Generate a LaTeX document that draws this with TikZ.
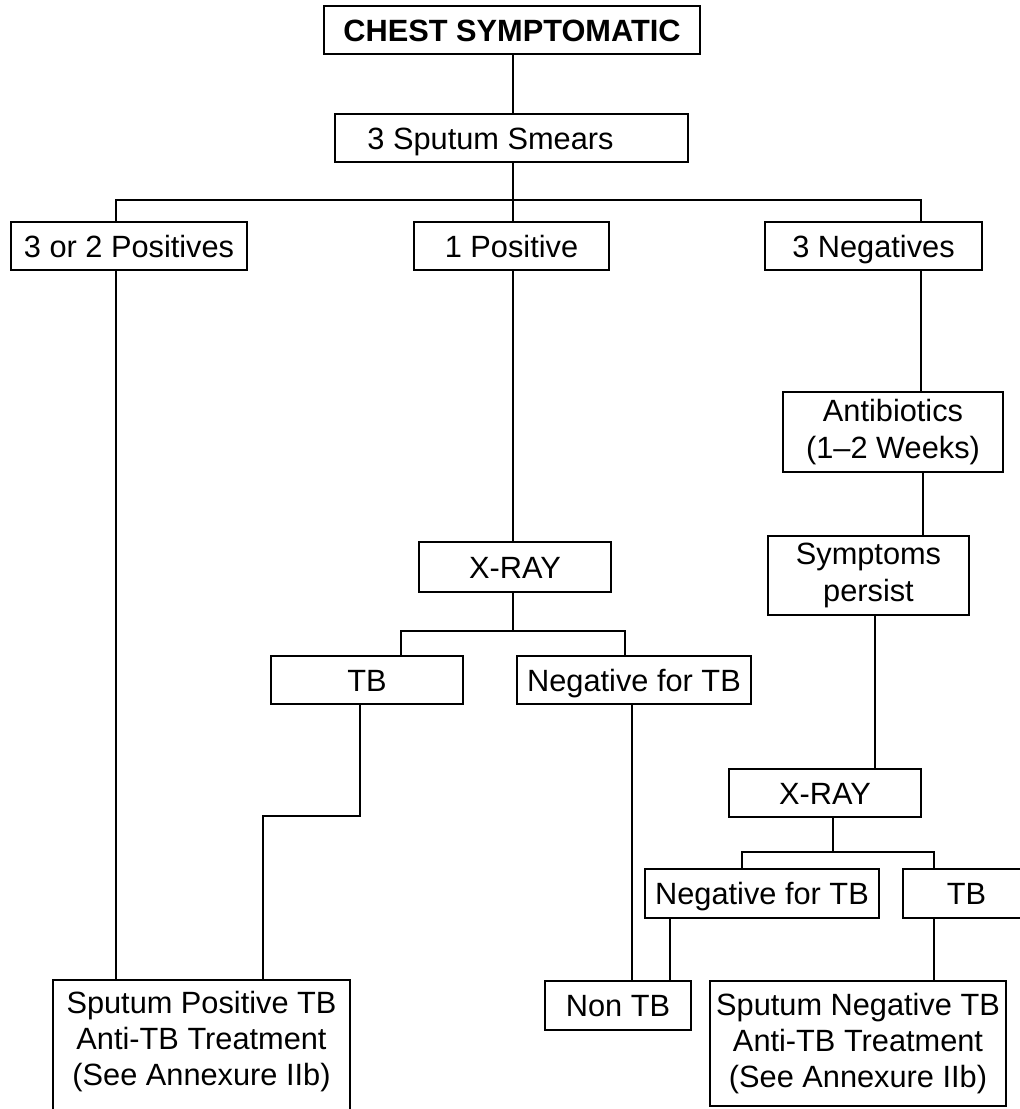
\documentclass[tikz,border=0pt]{standalone}
\usepackage{fontspec}
\setmainfont{Liberation Sans}
\usepackage{tikz}
\usetikzlibrary{positioning,calc}

\begin{document}
\begin{tikzpicture}[
    x=0.02cm, y=-0.02cm,
    font=\fontsize{17.5}{20.5}\selectfont,
    box/.style={draw=black, line width=1.1pt, inner sep=0pt, align=center, minimum height=0.96cm},
    onebox/.style={box, text height=0.44cm, text depth=0pt},
    link/.style={draw=black, line width=0.9pt}
]
    \useasboundingbox (0,0) rectangle (1020,1109);

    % Top of the chart
    \node[onebox, font=\fontsize{17.5}{20.5}\selectfont\bfseries, minimum width=7.52cm] (chest) at (512,30) {CHEST SYMPTOMATIC};
    \node[onebox, minimum width=7.06cm] (smears) at (511.5,138) {3 Sputum Smears\hspace*{0.84cm}};

    % Smear results
    \node[onebox, minimum width=4.72cm] (pos32) at (129,246) {3 or 2 Positives};
    \node[onebox, minimum width=3.9cm] (pos1) at (511.5,246) {1 Positive};
    \node[onebox, minimum width=4.34cm] (neg3) at (873.5,246) {3 Negatives};

    % Right branch: antibiotics trial
    \node[box, font=\fontsize{17.5}{21.5}\selectfont, minimum width=4.4cm, minimum height=1.6cm] (abx) at (893,432) {Antibiotics\\(1--2 Weeks)};
    \node[box, font=\fontsize{17.5}{21.5}\selectfont, minimum width=4.02cm, minimum height=1.58cm] (sympt) at (868.5,575.5) {Symptoms\\persist};

    % X-ray checks
    \node[onebox, minimum width=3.84cm, minimum height=1.0cm] (xray1) at (515,567) {X-RAY};
    \node[onebox, minimum width=3.84cm] (tb1) at (367,680) {TB};
    \node[onebox, minimum width=4.68cm] (negtb1) at (634,680) {Negative for TB};
    \node[onebox, minimum width=3.84cm] (xray2) at (825,793) {X-RAY};
    \node[onebox, minimum width=4.68cm, minimum height=0.98cm] (negtb2) at (762,893.5) {Negative for TB};
    \node[onebox, minimum width=2.54cm, minimum height=0.98cm] (tb2) at (966.5,893.5) {TB};

    % Outcomes
    \node[onebox, minimum width=2.92cm, minimum height=0.98cm] (nontb) at (618,1005.5) {Non TB};
    \node[box, minimum width=5.94cm, minimum height=2.64cm] (sputpos) at (201.5,1046) {Sputum Positive TB\\Anti-TB Treatment\\(See Annexure IIb)\rule[-0.29cm]{0pt}{0pt}};
    \node[box, minimum width=5.92cm, minimum height=2.5cm] (sputneg) at (858,1043.5) {Sputum Negative TB\\Anti-TB Treatment\\(See Annexure IIb)};

    % Junction points
    \coordinate (b1) at (513,200);
    \coordinate (b1l) at (116,200);
    \coordinate (b1r) at (921,200);
    \coordinate (t1) at (875,700);
    \coordinate (b2) at (513,631);
    \coordinate (b2l) at (401,631);
    \coordinate (b2r) at (625,631);
    \coordinate (k1) at (360,816);
    \coordinate (k2) at (263,816);
    \coordinate (b3) at (833,852);
    \coordinate (b3l) at (742,852);
    \coordinate (b3r) at (934,852);
    \coordinate (k3) at (670,950);

    % Connectors
    \draw[link] (chest.south -| b1) -- (smears.north -| b1);
    \draw[link] (smears.south -| b1) -- (b1);
    \draw[link] (pos32.north -| b1l) -- (b1l) -- (b1r) -- (neg3.north -| b1r);
    \draw[link] (b1) -- (pos1.north -| b1);
    \draw[link] (pos32.south -| b1l) -- (sputpos.north -| b1l);
    \draw[link] (pos1.south -| b1) -- (xray1.north -| b1);
    \draw[link] (neg3.south -| b1r) -- (abx.north -| b1r);
    \draw[link] ([xshift=0.04cm]abx.south -| b1r) -- ([xshift=0.04cm]sympt.north -| b1r);
    \draw[link] (sympt.south -| t1) -- (xray2.north -| t1);

    \draw[link] (xray1.south -| b2) -- (b2);
    \draw[link] (tb1.north -| b2l) -- (b2l) -- (b2r) -- (negtb1.north -| b2r);
    \draw[link] (tb1.south -| k1) -- (k1) -- (k2) -- (sputpos.north -| k2);
    \draw[link] ([xshift=-0.04cm]negtb1.south) -- ([xshift=-0.04cm]negtb1.south |- nontb.north);

    \draw[link] (xray2.south -| b3) -- (b3);
    \draw[link] (negtb2.north -| b3l) -- (b3l) -- (b3r) -- (tb2.north -| b3r);
    \draw[link] (negtb2.south -| k3) -- (nontb.north -| k3);
    \draw[link] (tb2.south -| b3r) -- (sputneg.north -| b3r);

\end{tikzpicture}
\end{document}
